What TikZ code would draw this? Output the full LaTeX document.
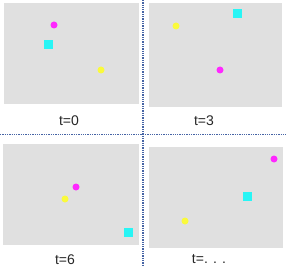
\documentclass[tikz,border=0pt]{standalone}
\usepackage{fontspec}
\setmainfont{Liberation Sans}
\usetikzlibrary{positioning}
\definecolor{divblue}{RGB}{70,100,165}
\definecolor{panelgray}{RGB}{224,224,224}
\definecolor{dotmagenta}{RGB}{255,40,255}
\definecolor{dotcyan}{RGB}{40,245,245}
\definecolor{dotyellow}{RGB}{250,250,60}

\begin{document}
\begin{tikzpicture}[
  x=1pt, y=-1pt,
  panel/.style={fill=panelgray, draw=none, inner sep=0pt},
  ball/.style={circle, minimum size=7pt, inner sep=0pt},
  box/.style={rectangle, minimum size=9pt, inner sep=0pt, fill=dotcyan},
  tlabel/.style={font=\fontsize{14}{16}\selectfont, inner sep=0pt, text=black!85},
  divider/.style={draw=divblue, densely dotted, line width=1.3pt}
]
\useasboundingbox (0,0) rectangle (286,267);
% panels
\node[panel, minimum width=135pt, minimum height=101pt] (pA) at (71.5,53.5) {};
\node[panel, minimum width=133pt, minimum height=104pt] (pB) at (215.5,55) {};
\node[panel, minimum width=136pt, minimum height=101pt] (pC) at (71,194.5) {};
\node[panel, minimum width=134pt, minimum height=101pt] (pD) at (216,197.5) {};
% t=0
\node[ball, fill=dotmagenta] (mA) at (54,25) {};
\node[box] (cA) at (48,45) {};
\node[ball, fill=dotyellow] (yA) at (101,70) {};
% t=3
\node[box] (cB) at (237,14) {};
\node[ball, fill=dotyellow] (yB) at (176,26) {};
\node[ball, fill=dotmagenta] (mB) at (220,70) {};
% t=6
\node[ball, fill=dotmagenta] (mC) at (76,187) {};
\node[ball, fill=dotyellow] (yC) at (65,199) {};
\node[box] (cC) at (128,232) {};
% t=...
\node[ball, fill=dotmagenta] (mD) at (274,159) {};
\node[box] (cD) at (247,196) {};
\node[ball, fill=dotyellow] (yD) at (185,221) {};
% labels
\node[tlabel] (lA) at (69,121) {t=0};
\node[tlabel] (lB) at (204,121) {t=3};
\node[tlabel] (lC) at (65,260) {t=6};
\node[tlabel] (lD) at (209,259.5) {t=. . .};
% dividers
\draw[divider] (143,0) -- (143,267);
\draw[divider] (0,134.5) -- (286,134.5);
\end{tikzpicture}
\end{document}
